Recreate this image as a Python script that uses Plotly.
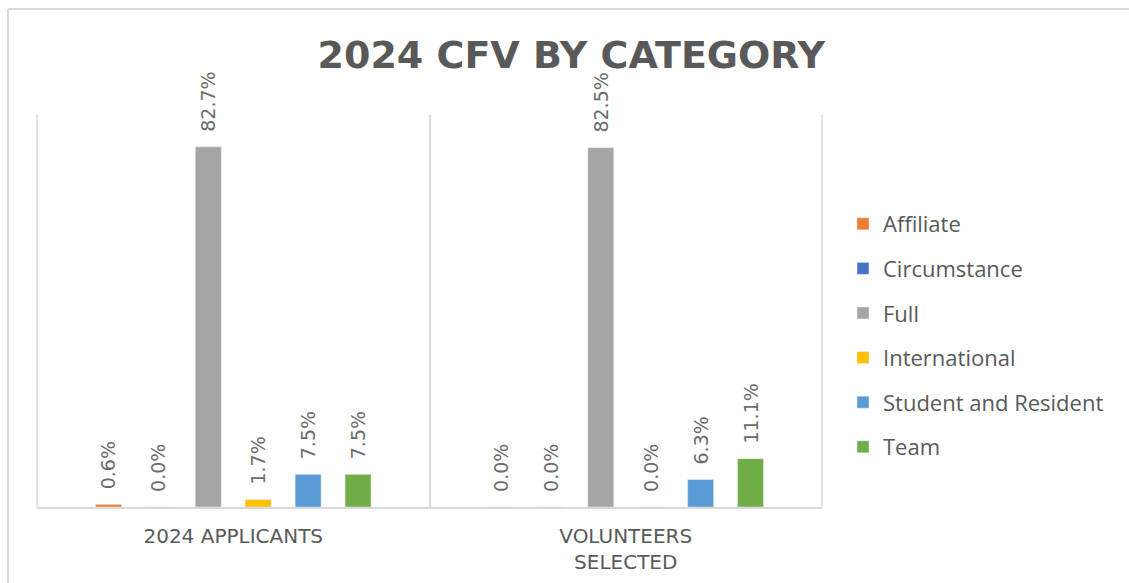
import plotly.graph_objects as go

categories = ["2024 APPLICANTS", "VOLUNTEERS<br>SELECTED"]
series_names = ["Affiliate", "Circumstance", "Full", "International", "Student and Resident", "Team"]
affiliate = [0.6, 0.0]
circumstance = [0.0, 0.0]
full = [82.7, 82.5]
international = [1.7, 0.0]
student_resident = [7.5, 6.3]
team = [7.5, 11.1]
colors = ["#ED7D31", "#4472C4", "#A5A5A5", "#FFC000", "#5B9BD5", "#70AD47"]

values = [affiliate, circumstance, full, international, student_resident, team]

W, H = 1129, 583
L, R, T, B = 37, 307, 115, 76

fig = go.Figure()
for name, vals, col in zip(series_names, values, colors):
    fig.add_trace(go.Bar(
        name=name, x=categories, y=vals, marker_color=col,
        text=["\u00a0\u00a0" + f"{v:.1f}%" for v in vals], textposition="outside",
        textangle=-90, cliponaxis=False, constraintext="none",
        textfont=dict(size=19, color="#6b6b6b", family="DejaVu Sans"),
        legendgroup=name,
    ))

pw = W - L - R
ph = H - T - B
def px2paper_x(p):
    return (p - L) / pw
def py2paper_y(p):
    return (H - B - p) / ph

grey = "#D9D9D9"
fig.update_layout(
    width=W, height=H,
    margin=dict(l=L, r=R, t=T, b=B, autoexpand=False),
    paper_bgcolor="white", plot_bgcolor="white",
    barmode="group", bargap=0.237, bargroupgap=0.48,
    title=dict(text="<b>2024 CFV BY CATEGORY</b>", x=0.506, xanchor="center",
               y=1 - 55 / H, yanchor="middle",
               font=dict(size=38, color="#595959", family="DejaVu Sans")),
    font=dict(family="Open Sans", color="#595959"),
    xaxis=dict(showgrid=True, gridcolor=grey, gridwidth=1.5, tickson="boundaries",
               ticks="", showline=True, linecolor=grey, linewidth=1.5,
               automargin=False,
               tickfont=dict(size=20, color="#595959", family="DejaVu Sans"),
               ticklabelstandoff=10,
               range=[-0.5, 1.5]),
    yaxis=dict(range=[0, 90], visible=False, showgrid=False, zeroline=False,
               automargin=False),
    legend=dict(x=px2paper_x(843), xanchor="left", y=py2paper_y(203), yanchor="top",
                font=dict(size=22, color="#595959", family="Open Sans"),
                tracegroupgap=13, itemwidth=30),
    showlegend=True,
    shapes=[
        dict(type="line", xref="paper", yref="paper",
             x0=px2paper_x(8), x1=px2paper_x(1140), y0=py2paper_y(9), y1=py2paper_y(9),
             line=dict(color=grey, width=2)),
        dict(type="line", xref="paper", yref="paper",
             x0=px2paper_x(8), x1=px2paper_x(8), y0=py2paper_y(9), y1=py2paper_y(600),
             line=dict(color=grey, width=2)),
        dict(type="line", xref="paper", yref="paper", x0=0, x1=0, y0=0, y1=1,
             line=dict(color=grey, width=1.5)),
        dict(type="line", xref="paper", yref="paper", x0=1, x1=1, y0=0, y1=1,
             line=dict(color=grey, width=1.5)),
    ],
)

fig.write_html("out.html", config={"displayModeBar": False},
               post_script="document.body.style.margin='0';")
